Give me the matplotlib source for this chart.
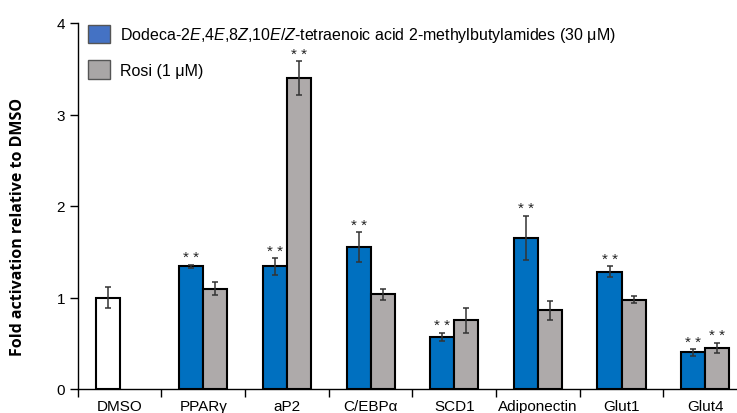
import numpy as np
import matplotlib.pyplot as plt
from matplotlib.patches import Patch

plt.rcParams['font.family'] = ['Liberation Sans', 'DejaVu Sans']
plt.rcParams['mathtext.fontset'] = 'custom'
plt.rcParams['mathtext.rm'] = 'Liberation Sans'
plt.rcParams['mathtext.it'] = 'Liberation Sans:italic'

# data
categories = ['DMSO', 'PPARγ', 'aP2', 'C/EBPα', 'SCD1', 'Adiponectin', 'Glut1', 'Glut4']
dmso_value = 1.00
dmso_err = 0.12
amide_vals = [1.34, 1.34, 1.55, 0.57, 1.65, 1.28, 0.40]
amide_errs = [0.02, 0.09, 0.165, 0.044, 0.244, 0.06, 0.036]
amide_sig = [True, True, True, True, True, True, True]
rosi_vals = [1.095, 3.40, 1.036, 0.75, 0.86, 0.978, 0.447]
rosi_errs = [0.07, 0.185, 0.06, 0.135, 0.107, 0.04, 0.058]
rosi_sig = [False, True, False, False, False, False, True]

amide_label = ('Dodeca-2$\\mathit{E}$,4$\\mathit{E}$,8$\\mathit{Z}$,10$\\mathit{E/Z}$'
               '-tetraenoic acid 2-methylbutylamides (30 μM)')
rosi_label = 'Rosi (1 μM)'

blue = '#0070C0'
grey = '#AEAAAA'
W = 737
H = 414

fig = plt.figure(figsize=(W / 100, H / 100), dpi=100)
ax = fig.add_axes([77.7 / W, 24 / H, (747 - 77.7) / W, (390 - 24) / H])

bw = 0.287
x = np.arange(len(categories))
err_kw = dict(ecolor='#333333', elinewidth=1.1, capsize=2.2, capthick=1.1)

ax.bar(x[0] - bw / 2, dmso_value, bw, color='white', edgecolor='black', linewidth=1.5,
       yerr=dmso_err, error_kw=err_kw, zorder=2)
ax.bar(x[1:] - bw / 2, amide_vals, bw, color=blue, edgecolor='black', linewidth=1.5,
       yerr=amide_errs, error_kw=err_kw, zorder=2)
ax.bar(x[1:] + bw / 2, rosi_vals, bw, color=grey, edgecolor='black', linewidth=1.5,
       yerr=rosi_errs, error_kw=err_kw, zorder=2)

# significance stars
for i in range(len(amide_vals)):
    if amide_sig[i]:
        ax.text(x[i + 1] - bw / 2, amide_vals[i] + amide_errs[i] + 0.005, '* *',
                ha='center', va='bottom', fontsize=11, color='#222222')
    if rosi_sig[i]:
        ax.text(x[i + 1] + bw / 2, rosi_vals[i] + rosi_errs[i] + 0.005, '* *',
                ha='center', va='bottom', fontsize=11, color='#222222')

ax.set_xlim(-0.5, len(categories) - 0.5)
ax.set_ylim(0, 4)
ax.set_yticks([0, 1, 2, 3, 4])
ax.set_xticks(x)
ax.set_xticklabels(categories)
ax.set_xticks(np.arange(-0.5, len(categories), 1), minor=True)
ax.tick_params(axis='x', which='major', length=0, pad=7, labelsize=11)
ax.tick_params(axis='x', which='minor', length=6, width=1, direction='out')
ax.tick_params(axis='y', length=6, width=1, labelsize=11, pad=3)
for s in ['top', 'right']:
    ax.spines[s].set_visible(False)
for s in ['left', 'bottom']:
    ax.spines[s].set_linewidth(1)

fig.text(18 / W, 1 - 227 / H, 'Fold activation relative to DMSO', rotation=90,
         ha='center', va='center', fontsize=11.5, fontweight='bold',
         family=['Open Sans', 'DejaVu Sans'])

handles = [Patch(facecolor='#4472C4', edgecolor='#555555', linewidth=1),
           Patch(facecolor='#A9A6A6', edgecolor='#555555', linewidth=1)]
ax.legend(handles, [amide_label, rosi_label], loc='upper left',
          bbox_to_anchor=(-0.006, 1.035), frameon=False, fontsize=11.5,
          handlelength=1.4, handleheight=1.4, labelspacing=1.0, handletextpad=0.6)

fig.savefig('out.png', dpi=100)
